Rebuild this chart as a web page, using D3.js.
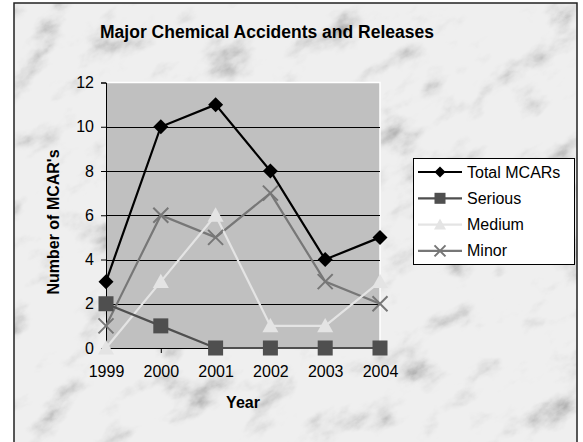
<!DOCTYPE html>
<html><head><meta charset="utf-8">
<script src="https://cdn.jsdelivr.net/npm/d3@7"></script>
<style>html,body{margin:0;padding:0;background:#fff;}svg{display:block;}</style>
</head><body>
<script>
const years = ["1999","2000","2001","2002","2003","2004"];
const totalMCARs = [3,10,11,8,4,5];
const serious = [2,1,0,0,0,0];
const medium = [0,3,6,1,1,3];
const minor = [1,6,5,7,3,2];
const yTicks = [0,2,4,6,8,10,12];
const seriesNames = ["Total MCARs","Serious","Medium","Minor"];

const W = 583, H = 442;
const svg = d3.select("body").append("svg").attr("width", W).attr("height", H);
const defs = svg.append("defs");

// marble texture filter
const f = defs.append("filter").attr("id","marble").attr("x",0).attr("y",0).attr("width","100%").attr("height","100%");
f.append("feTurbulence").attr("type","fractalNoise").attr("baseFrequency","0.02 0.032").attr("numOctaves",5).attr("seed",11).attr("result","n");
f.append("feColorMatrix").attr("type","matrix")
  .attr("values","0 0 0 0 0  0 0 0 0 0  0 0 0 0 0  -1.5 0 0 0 0.85").attr("result","a");
f.append("feComponentTransfer").append("feFuncA").attr("type","gamma").attr("amplitude",1.1).attr("exponent",2.4).attr("offset",0);
const clip = defs.append("clipPath").attr("id","frameClip");
clip.append("rect").attr("x",14).attr("y",3).attr("width",563).attr("height",460);

const bgG = svg.append("g").attr("clip-path","url(#frameClip)");
bgG.append("rect").attr("x",14).attr("y",3).attr("width",563).attr("height",460).attr("fill","#efefef");
bgG.append("g").attr("transform","rotate(-30 295 230)")
  .append("rect").attr("x",-200).attr("y",-200).attr("width",1000).attr("height",900)
  .attr("fill","#777777").attr("filter","url(#marble)").attr("opacity",0.6);
svg.append("rect").attr("x",14).attr("y",3).attr("width",563).attr("height",460)
  .attr("fill","none").attr("stroke","#222").attr("stroke-width",1.5);

const plot = {l:106, r:380, t:82.5, b:348};
const x = d3.scalePoint().domain(years).range([plot.l, plot.r]);
const y = d3.scaleLinear().domain([0,12]).range([plot.b, plot.t]);

// plot area
svg.append("rect").attr("x",plot.l).attr("y",plot.t).attr("width",plot.r-plot.l).attr("height",plot.b-plot.t).attr("fill","#c0c0c0");
svg.append("path").attr("d",`M${plot.l},${plot.t}H${plot.r}V${plot.b}`).attr("fill","none").attr("stroke","#fff").attr("stroke-width",1.5);

// gridlines
svg.append("g").selectAll("line").data(yTicks.filter(d=>d>0 && d<12)).join("line")
  .attr("x1",plot.l).attr("x2",plot.r).attr("y1",d=>Math.round(y(d))+0.5).attr("y2",d=>Math.round(y(d))+0.5)
  .attr("stroke","#000").attr("stroke-width",1);

// axes
const fontF = "Arial, 'Liberation Sans', sans-serif";
const yAxis = svg.append("g").attr("transform",`translate(${plot.l},0)`)
  .call(d3.axisLeft(y).tickValues(yTicks).tickSize(5).tickPadding(7).tickFormat(d3.format("d")));
const xAxis = svg.append("g").attr("transform",`translate(0,${plot.b})`)
  .call(d3.axisBottom(x).tickSize(5).tickPadding(13));
[yAxis,xAxis].forEach(a=>{
  a.attr("font-size",16).attr("font-family",fontF);
  a.select(".domain").attr("stroke","#000");
  a.selectAll(".tick line").attr("stroke","#000");
  a.selectAll("text").attr("font-family",fontF).attr("font-size",16).attr("fill","#000");
});
xAxis.select(".domain").attr("d",`M${plot.l},0.5H${plot.r}`);

// series
const series = [
  {name:seriesNames[0], values:totalMCARs, color:"#000000", marker:"diamond"},
  {name:seriesNames[1], values:serious, color:"#4f4f4f", marker:"square"},
  {name:seriesNames[2], values:medium, color:"#e4e4e4", marker:"triangle"},
  {name:seriesNames[3], values:minor, color:"#777777", marker:"x"}
];
function marker(g, type, color, s){
  if(type==="diamond"){
    g.append("path").attr("d",`M0,${-s}L${s},0L0,${s}L${-s},0Z`).attr("fill",color);
  } else if(type==="square"){
    g.append("rect").attr("x",-s).attr("y",-s).attr("width",2*s).attr("height",2*s).attr("fill",color);
  } else if(type==="triangle"){
    g.append("path").attr("d",`M0,${-s}L${s},${s*0.8}L${-s},${s*0.8}Z`).attr("fill",color);
  } else {
    g.append("path").attr("d",`M${-s},${-s}L${s},${s}M${s},${-s}L${-s},${s}`).attr("stroke",color).attr("stroke-width",2);
  }
}
const line = d3.line().x((d,i)=>x(years[i])).y(d=>y(d));
const order = [3,2,1,0];
order.forEach(k=>{
  const s = series[k];
  svg.append("path").datum(s.values).attr("d",line).attr("fill","none").attr("stroke",s.color).attr("stroke-width",2.2);
});
const mSize = {diamond:7.5, square:7.5, triangle:8, x:7.5};
order.forEach(k=>{
  const s = series[k];
  svg.append("g").selectAll("g").data(s.values).join("g")
    .attr("transform",(d,i)=>`translate(${x(years[i])},${y(d)})`)
    .each(function(){ marker(d3.select(this), s.marker, s.color, mSize[s.marker]); });
});

// titles
svg.append("text").attr("x",267).attr("y",38).attr("text-anchor","middle")
  .attr("font-family",fontF).attr("font-weight","bold").attr("font-size",17.5).text("Major Chemical Accidents and Releases");
svg.append("text").attr("x",243).attr("y",408).attr("text-anchor","middle")
  .attr("font-family",fontF).attr("font-weight","bold").attr("font-size",16).text("Year");
svg.append("text").attr("transform",`translate(59,222) rotate(-90)`).attr("text-anchor","middle")
  .attr("font-family",fontF).attr("font-weight","bold").attr("font-size",16).text("Number of MCAR's");

// legend
const lg = svg.append("g");
lg.append("rect").attr("x",413.5).attr("y",158.5).attr("width",161).attr("height",106).attr("fill","#fff").attr("stroke","#000");
series.forEach((s,i)=>{
  const cy = 172 + i*26.3;
  const g = lg.append("g");
  g.append("line").attr("x1",418).attr("x2",462).attr("y1",cy).attr("y2",cy).attr("stroke",s.color).attr("stroke-width",2.2);
  const m = g.append("g").attr("transform",`translate(440,${cy})`);
  marker(m, s.marker, s.color, s.marker==="triangle"?6:5.5);
  g.append("text").attr("x",467).attr("y",cy+5.5).attr("font-family",fontF).attr("font-size",16).text(s.name);
});
</script>
</body></html>
